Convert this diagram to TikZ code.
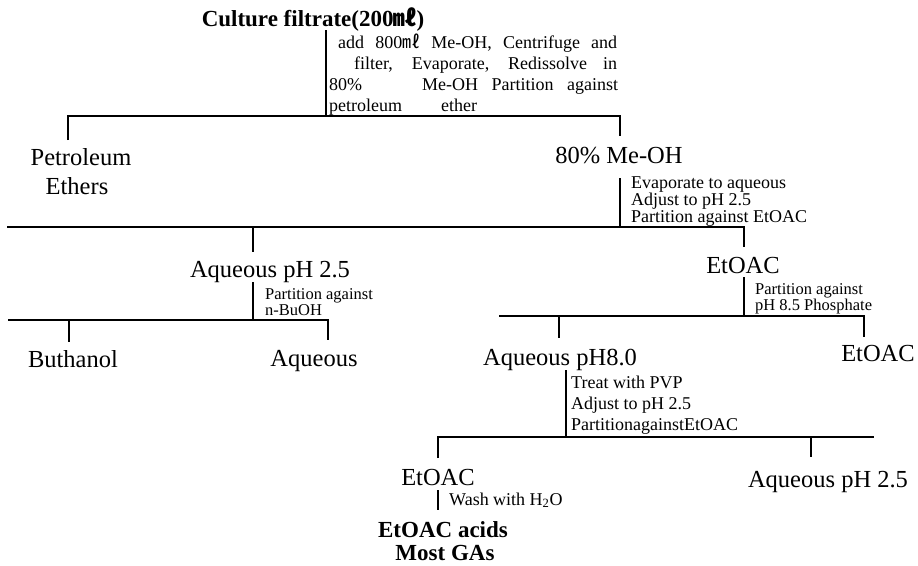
\documentclass[tikz,border=0pt]{standalone}
\usepackage{fontspec}
\setmainfont{Liberation Serif}
\newfontfamily\cjk{Noto Sans CJK KR}
\begin{document}
\begin{tikzpicture}[x=1pt,y=-1pt,
  big/.style={font=\fontsize{24.5}{26}\selectfont, inner sep=0pt, anchor=base},
  ttl/.style={font=\bfseries\fontsize{23}{25}\selectfont, inner sep=0pt, anchor=base},
  note/.style={font=\fontsize{18}{18}\selectfont, inner sep=0pt, anchor=base west},
  smallnote/.style={font=\fontsize{16.5}{16}\selectfont, inner sep=0pt, anchor=base west},
  ln/.style={line width=1.1pt}]
\useasboundingbox (0,0) rectangle (918,565);

% ---------- labels ----------
\node[ttl] (title) at (313,26) {Culture filtrate(200{\cjk ㎖})};
\node[big] (pet1) at (81,165) {Petroleum};
\node[big] (pet2) at (77,194) {Ethers};
\node[big] (meoh) at (619,163) {80\% Me-OH};
\node[big] (aq1) at (270,277) {Aqueous pH 2.5};
\node[big] (et1) at (743,273) {EtOAC};
\node[big] (but) at (73,367) {Buthanol};
\node[big] (aq2) at (314,366) {Aqueous};
\node[big] (aq3) at (560,365) {Aqueous pH8.0};
\node[big] (et2) at (878,361) {EtOAC};
\node[big] (et3) at (438,485) {EtOAC};
\node[big] (aq4) at (828,487) {Aqueous pH 2.5};
\node[ttl] (acid1) at (443,537) {EtOAC acids};
\node[ttl] (acid2) at (445,560) {Most GAs};

% ---------- annotations ----------
\node[note] (n1a) at (338,48) {\makebox[279pt][s]{add 800{\cjk ㎖} Me-OH, Centrifuge and}};
\node[note] (n1b) at (354,69) {\makebox[263pt][s]{filter, Evaporate, Redissolve in}};
\node[note] (n1c) at (329,90) {80\%\hspace{60pt}\makebox[196pt][s]{Me-OH Partition against}};
\node[note] (n1d) at (329,111) {petroleum\hspace{39pt}ether};

\node[note] (n2a) at (631,188) {Evaporate to aqueous};
\node[note] (n2b) at (631,205) {Adjust to pH 2.5};
\node[note] (n2c) at (631,222) {Partition against EtOAC};

\node[smallnote] (n3a) at (265,299) {Partition against};
\node[smallnote] (n3b) at (265,315) {n-BuOH};

\node[smallnote] (n4a) at (755,294) {Partition against};
\node[smallnote] (n4b) at (755,310) {pH 8.5 Phosphate};

\node[note] (n5a) at (571,388) {Treat with PVP};
\node[note] (n5b) at (571,409) {Adjust to pH 2.5};
\node[note] (n5c) at (571,430) {PartitionagainstEtOAC};

\node[note] (n6) at (449,505) {Wash with H\textsubscript{2}O};

% ---------- coordinates ----------
\coordinate (v1t) at (326,30);   \coordinate (v1b) at (326,116);
\coordinate (h1l) at (68,116);   \coordinate (h1r) at (620,116);
\coordinate (p1)  at (68,140);   \coordinate (p2)  at (620,136);

\coordinate (v2t) at (620,178);  \coordinate (v2b) at (620,227);
\coordinate (h2l) at (7,227);    \coordinate (h2r) at (744,227);
\coordinate (a1t) at (253,227);  \coordinate (a1b) at (253,252);
\coordinate (p3)  at (744,247);

\coordinate (v3t) at (253,282);  \coordinate (v3b) at (253,320);
\coordinate (h3l) at (8,320);    \coordinate (h3r) at (328,320);
\coordinate (b1t) at (69,320);   \coordinate (b1b) at (69,342);
\coordinate (p4)  at (328,340);

\coordinate (v4t) at (744,277);  \coordinate (v4b) at (744,316);
\coordinate (h4l) at (499,316);  \coordinate (h4r) at (864,316);
\coordinate (c1t) at (559,316);  \coordinate (c1b) at (559,338);
\coordinate (p5)  at (864,337);

\coordinate (v5t) at (566,370);  \coordinate (v5b) at (566,437);
\coordinate (h5l) at (438,437);  \coordinate (h5r) at (874,437);
\coordinate (p6)  at (438,458);
\coordinate (d1t) at (811,437);  \coordinate (d1b) at (811,457);

\coordinate (v6t) at (438,490);  \coordinate (v6b) at (438,510);

% ---------- connectors ----------
\draw[ln] (v1t) -- (v1b);
\draw[ln] (p1) -- (h1l) -- (h1r) -- (p2);
\draw[ln] (v2t) -- (v2b);
\draw[ln] (h2l) -- (h2r) -- (p3);
\draw[ln] (a1t) -- (a1b);
\draw[ln] (v3t) -- (v3b);
\draw[ln] (h3l) -- (h3r) -- (p4);
\draw[ln] (b1t) -- (b1b);
\draw[ln] (v4t) -- (v4b);
\draw[ln] (h4l) -- (h4r) -- (p5);
\draw[ln] (c1t) -- (c1b);
\draw[ln] (v5t) -- (v5b);
\draw[ln] (p6) -- (h5l) -- (h5r);
\draw[ln] (d1t) -- (d1b);
\draw[ln] (v6t) -- (v6b);
\end{tikzpicture}
\end{document}
